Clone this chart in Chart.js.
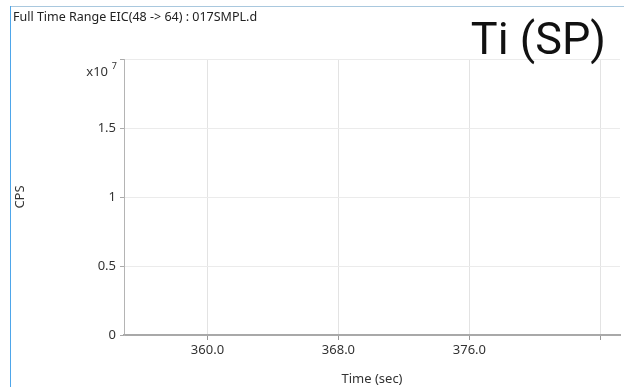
<!DOCTYPE html>
<html>
<head>
<meta charset="utf-8">
<script src="https://cdn.jsdelivr.net/npm/chart.js@4.4.1/dist/chart.umd.min.js"></script>
<style>
  html, body { margin: 0; padding: 0; background: #fff; }
  #wrap { width: 624px; height: 387px; }
</style>
</head>
<body>
<div id="wrap"><canvas id="myChart" width="624" height="387"></canvas></div>
<script>
// EIC trace - nothing above baseline in this time window
const times = [354.9, 358, 362, 366, 370, 374, 378, 382, 385.2];
const counts = [0, 0, 0, 0, 0, 0, 0, 0, 0];

const xTickValues = [360, 368, 376, 384];
const xTickLabels = ['360.0', '368.0', '376.0', ''];
const yTickValues = [0, 0.5e7, 1e7, 1.5e7, 2e7];
const yTickLabels = ['0', '0.5', '1', '1.5', ''];

const uiFont = "'Noto Sans', 'Open Sans', sans-serif";

const frame = {
    id: 'frame',
    beforeDraw(chart) {
        const c = chart.ctx;
        c.save();
        c.fillStyle = '#fff';
        c.fillRect(0, 0, chart.width, chart.height);
        c.restore();
    },
    afterDraw(chart) {
        const c = chart.ctx;
        c.save();
        // window border
        c.strokeStyle = '#a9c8de';
        c.lineWidth = 1;
        c.beginPath();
        c.moveTo(10, 6.5);
        c.lineTo(624, 6.5);
        c.stroke();
        c.strokeStyle = '#4ea6ea';
        c.beginPath();
        c.moveTo(10.5, 6);
        c.lineTo(10.5, 387);
        c.stroke();

        c.fillStyle = '#222';
        c.textBaseline = 'alphabetic';
        c.textAlign = 'left';
        c.font = '12.5px ' + uiFont;
        c.fillText('Full Time Range EIC(48 -> 64) : 017SMPL.d', 13, 21);

        c.textAlign = 'right';
        c.fillStyle = '#111';
        c.font = '45px Roboto';
        c.fillText('Ti (SP)', 606, 54);

        // exponent label
        c.fillStyle = '#333';
        c.font = '13px ' + uiFont;
        c.fillText('x10', 108, 76);
        c.font = '9px ' + uiFont;
        c.fillText('7', 117, 69);
        c.restore();
    }
};

const config = {
    type: 'scatter',
    data: {
        datasets: [{
            label: 'EIC',
            data: times.map((t, i) => ({x: t, y: counts[i]})),
            showLine: true,
            borderColor: '#a8a8a8',
            borderWidth: 2,
            pointRadius: 0
        }]
    },
    options: {
        responsive: false,
        animation: false,
        layout: { padding: { left: 0, top: 59, right: 4, bottom: 0 } },
        plugins: { legend: { display: false }, tooltip: { enabled: false } },
        scales: {
            x: {
                type: 'linear',
                min: 354.9,
                max: 385.2,
                afterBuildTicks: s => { s.ticks = xTickValues.map(v => ({value: v})); },
                afterFit: s => { s.height = 52; },
                ticks: {
                    callback: (v, i) => xTickLabels[i],
                    color: '#333',
                    font: { family: uiFont, size: 13 },
                    padding: 2,
                    maxRotation: 0
                },
                grid: { color: '#e3e3e3', tickColor: '#999', tickLength: 5 },
                border: { color: '#a9a9a9', width: 2 },
                title: {
                    display: true,
                    text: 'Time (sec)',
                    color: '#333',
                    font: { family: uiFont, size: 13 },
                    padding: { top: 0, bottom: 0 }
                }
            },
            y: {
                min: 0,
                max: 2e7,
                afterBuildTicks: s => { s.ticks = yTickValues.map(v => ({value: v})); },
                afterFit: s => { s.width = 124; },
                ticks: {
                    callback: (v, i) => yTickLabels[i],
                    color: '#333',
                    font: { family: uiFont, size: 13 },
                    padding: 4
                },
                grid: { color: '#ebebeb', tickColor: '#aaa', tickLength: 4 },
                border: { color: '#b4b4b4', width: 1 },
                title: {
                    display: true,
                    text: 'CPS',
                    color: '#333',
                    font: { family: uiFont, size: 13 },
                    padding: { top: 12, bottom: 0 }
                }
            }
        }
    },
    plugins: [frame]
};

const myChart = new Chart(document.getElementById('myChart'), config);
</script>
</body>
</html>
